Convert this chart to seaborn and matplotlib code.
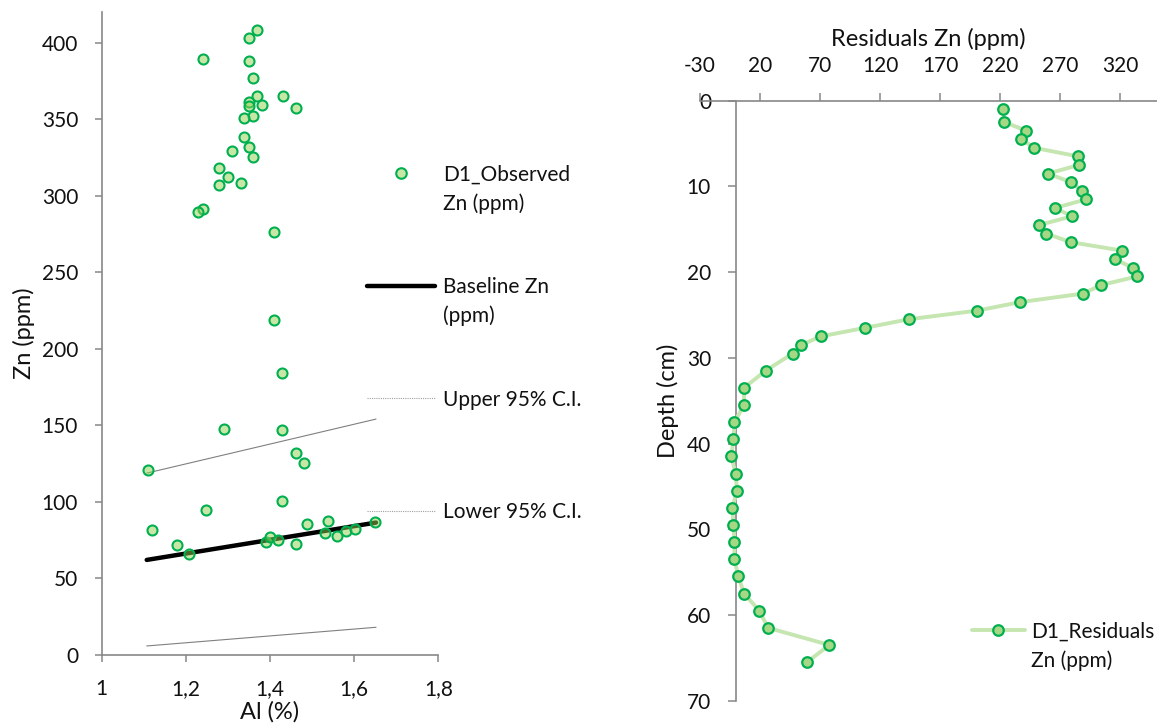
import matplotlib
matplotlib.use("Agg")
import matplotlib.pyplot as plt
from matplotlib.lines import Line2D
from matplotlib.ticker import FuncFormatter
import seaborn as sns

# Observed Zn against Al for core D1
al = [1.370, 1.350, 1.240, 1.350, 1.359, 1.370, 1.430, 1.350, 1.350, 1.380,
      1.461, 1.360, 1.339, 1.339, 1.350, 1.310, 1.359, 1.279, 1.300, 1.279,
      1.330, 1.240, 1.229, 1.409, 1.409, 1.429, 1.290, 1.429, 1.461, 1.481,
      1.109, 1.429, 1.249, 1.119, 1.489, 1.539, 1.179, 1.208, 1.390, 1.401,
      1.420, 1.461, 1.531, 1.560, 1.581, 1.602, 1.650]
zn = [408.0, 403.0, 389.1, 388.0, 376.9, 365.1, 365.1, 361.4, 358.8, 359.0,
      357.1, 351.9, 351.0, 338.1, 332.0, 329.0, 325.0, 318.1, 312.0, 307.0,
      308.0, 291.0, 289.1, 276.0, 218.7, 183.9, 147.9, 146.8, 131.8, 125.7,
      120.9, 100.7, 94.8, 81.7, 85.8, 87.6, 71.7, 65.8, 73.9, 76.9,
      75.0, 72.7, 80.0, 77.6, 80.8, 82.1, 86.9]

# Baseline regression and its 95% confidence limits at the Al extremes
fit_al = [1.107, 1.652]
baseline_zn = [62.1, 86.5]
upper_ci = [118.8, 154.1]
lower_ci = [5.9, 18.1]

# Residual Zn down the D1 profile
depth = [1.0, 2.5, 3.5, 4.5, 5.5, 6.5, 7.5, 8.5, 9.5, 10.5,
         11.5, 12.5, 13.5, 14.5, 15.5, 16.5, 17.5, 18.5, 19.5, 20.5,
         21.5, 22.5, 23.5, 24.5, 25.5, 26.5, 27.5, 28.5, 29.5, 31.5,
         33.5, 35.5, 37.5, 39.5, 41.5, 43.5, 45.5, 47.5, 49.5, 51.5,
         53.5, 55.5, 57.5, 59.5, 61.5, 63.5, 65.5]
residual = [222.2, 223.6, 241.9, 237.8, 248.6, 285.3, 285.8, 260.0, 278.9, 288.6,
            292.0, 266.1, 279.7, 252.5, 258.3, 278.9, 322.0, 315.8, 330.8, 334.4,
            304.4, 289.4, 236.7, 200.6, 143.9, 107.5, 70.6, 54.2, 47.2, 24.7,
            6.7, 6.7, -1.3, -2.1, -4.0, -0.3, 0.8, -3.0, -2.1, -1.3,
            -1.3, 1.9, 6.7, 19.4, 26.7, 77.8, 59.2]

zn_ticks = [0, 50, 100, 150, 200, 250, 300, 350, 400]
al_ticks = [1.0, 1.2, 1.4, 1.6, 1.8]
resid_ticks = [-30, 20, 70, 120, 170, 220, 270, 320]
depth_ticks = [0, 10, 20, 30, 40, 50, 60, 70]

sns.set_theme(style="white")
plt.rcParams["font.family"] = ["Lato", "DejaVu Sans"]
plt.rcParams["axes.unicode_minus"] = False

W, H = 1157, 724
FS = 15      # tick and legend text
FS_LAB = 17  # axis titles
INK = "#111111"
SPINE = "#888888"
GREEN_EDGE = "#00b050"
OBS_FACE = (146 / 255, 208 / 255, 80 / 255, 0.5)
RES_FACE = "#a6d785"
RES_LINE = "#c5e6b0"

fig = plt.figure(figsize=(W / 100, H / 100), dpi=100)


def fx(px):
    return px / W


def fy(py):
    return 1 - py / H


# ---- left panel: Zn vs Al -------------------------------------------------
ax1 = fig.add_axes([fx(101.7), fy(655), 336.6 / W, 643 / H])
sns.lineplot(x=fit_al, y=upper_ci, ax=ax1, color="#808080", lw=0.8, zorder=2)
sns.lineplot(x=fit_al, y=lower_ci, ax=ax1, color="#808080", lw=0.8, zorder=2)
sns.lineplot(x=fit_al, y=baseline_zn, ax=ax1, color="black", lw=3.2, zorder=3)
sns.scatterplot(x=al, y=zn, ax=ax1, s=52, facecolor=OBS_FACE,
                edgecolor=GREEN_EDGE, linewidth=1.5, zorder=4)

ax1.set_xlim(1.0, 1.8)
ax1.set_ylim(0, 420)
ax1.set_xticks(al_ticks)
ax1.set_yticks(zn_ticks)
ax1.xaxis.set_major_formatter(FuncFormatter(lambda v, p: f"{v:g}".replace(".", ",")))
for side in ("top", "right"):
    ax1.spines[side].set_visible(False)
for side in ("left", "bottom"):
    ax1.spines[side].set_color(SPINE)
    ax1.spines[side].set_linewidth(1.2)
ax1.tick_params(axis="both", which="major", bottom=True, left=True, direction="out",
                length=5, width=1.1, color=SPINE, labelsize=FS, labelcolor=INK)
ax1.tick_params(axis="y", pad=12)
ax1.tick_params(axis="x", pad=12)
ax1.set_xlabel("Al (%)", fontsize=FS_LAB, color=INK)
ax1.set_ylabel("Zn (ppm)", fontsize=FS_LAB, color=INK)
ax1.xaxis.set_label_coords(0.5, -0.071)
ax1.yaxis.set_label_coords(-0.198, 0.5)

# ---- right panel: residual depth profile ----------------------------------
ax2 = fig.add_axes([fx(700), fy(700.7), 457 / W, 600 / H])
sns.lineplot(x=residual, y=depth, ax=ax2, orient="y", sort=False, estimator=None,
             color=RES_LINE, lw=2.8, marker="o", markersize=7.6,
             markerfacecolor=RES_FACE, markeredgecolor=GREEN_EDGE,
             markeredgewidth=1.6, zorder=3)
ax2.set_xlim(-30, 350.8)
ax2.set_ylim(70, 0)
ax2.set_xticks(resid_ticks)
ax2.set_yticks(depth_ticks)
ax2.xaxis.tick_top()
ax2.xaxis.set_label_position("top")
ax2.spines["left"].set_position(("data", 0))
for side in ("right", "bottom"):
    ax2.spines[side].set_visible(False)
for side in ("left", "top"):
    ax2.spines[side].set_color(SPINE)
    ax2.spines[side].set_linewidth(1.2)
ax2.tick_params(axis="x", top=True, bottom=False, labeltop=True, labelbottom=False,
                direction="out", length=6, width=1.1, color=SPINE, labelsize=FS,
                labelcolor=INK, pad=12)
ax2.tick_params(axis="y", left=True, direction="out", length=6, width=1.1,
                color=SPINE, labelsize=FS, labelcolor=INK, pad=12)
ax2.set_xlabel("Residuals Zn (ppm)", fontsize=FS_LAB, color=INK)
ax2.set_ylabel("Depth (cm)", fontsize=FS_LAB, color=INK)
ax2.xaxis.set_label_coords(0.5, 1.091)
ax2.yaxis.set_label_coords(-0.046, 0.5)

# ---- legends --------------------------------------------------------------
def legend_text(px, baselines, lines):
    for b, s in zip(baselines, lines):
        fig.text(fx(px), fy(b), s, fontsize=FS, color=INK, va="baseline", ha="left")


fig.add_artist(Line2D([fx(401)], [fy(173)], marker="o", markersize=7.6,
                      markerfacecolor=OBS_FACE, markeredgecolor=GREEN_EDGE,
                      markeredgewidth=1.5, linestyle="none", transform=fig.transFigure))
legend_text(443, [180.7, 209.5], ["D1_Observed", "Zn (ppm)"])

fig.add_artist(Line2D([fx(367), fx(435)], [fy(286), fy(286)], color="black", lw=3.2,
                      transform=fig.transFigure))
legend_text(443, [292.7, 321.7], ["Baseline Zn", "(ppm)"])

fig.add_artist(Line2D([fx(367), fx(435)], [fy(398), fy(398)], color="#a0a0a0", lw=0.8,
                      linestyle=(0, (1, 1)), transform=fig.transFigure))
legend_text(443, [406], ["Upper 95% C.I."])

fig.add_artist(Line2D([fx(367), fx(435)], [fy(511), fy(511)], color="#a0a0a0", lw=0.8,
                      linestyle=(0, (1, 1)), transform=fig.transFigure))
legend_text(443, [518.3], ["Lower 95% C.I."])

fig.add_artist(Line2D([fx(972), fx(1025)], [fy(630), fy(630)], color=RES_LINE, lw=2.8,
                      transform=fig.transFigure))
fig.add_artist(Line2D([fx(998)], [fy(630)], marker="o", markersize=7.6,
                      markerfacecolor=RES_FACE, markeredgecolor=GREEN_EDGE,
                      markeredgewidth=1.6, linestyle="none", transform=fig.transFigure))
legend_text(1031, [637.5, 667], ["D1_Residuals", "Zn (ppm)"])

fig.savefig("out.png", dpi=100)
